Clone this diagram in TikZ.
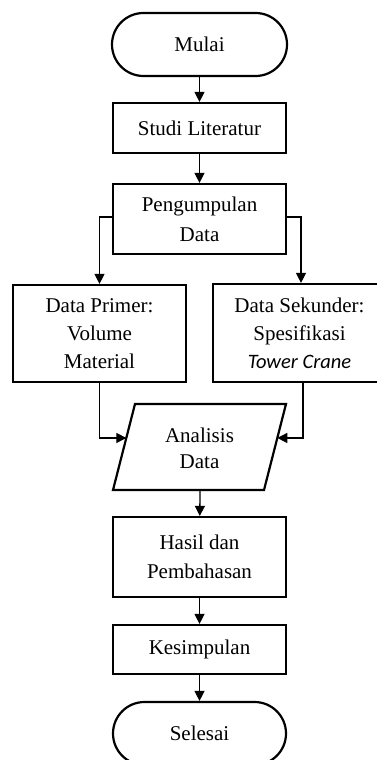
\documentclass[tikz,border=0pt]{standalone}
\usepackage{fontspec}
\setmainfont{Liberation Serif}
\newfontfamily\carl{Carlito}
\usetikzlibrary{arrows.meta,calc}
\begin{document}
\begin{tikzpicture}[x=1pt,y=-1pt,
  box/.style={draw,line width=2.2pt,minimum width=173pt,align=center,inner sep=0pt,
    font=\fontsize{21}{28}\selectfont},
  term/.style={box,rounded corners=31.5pt,minimum height=63pt},
  conn/.style={line width=1.3pt,-{Triangle[length=10pt,width=10pt]}}]
\useasboundingbox (0,0) rectangle (376,760);
\node[term,minimum width=175pt] (mulai) at (199.5,44.5) {Mulai};
\node[box,minimum height=50pt] (studi) at (199.5,128) {Studi Literatur};
\node[box,minimum height=70pt,font=\fontsize{21}{30}\selectfont] (kumpul) at (199.5,219) {Pengumpulan\\Data};
\node[box,minimum height=97pt] (primer) at (99.5,333.5) {Data Primer:\\Volume\\Material};
\node[box,minimum height=98pt] (sekunder) at (299.5,333) {Data Sekunder:\\Spesifikasi\\{\carl\itshape\fontsize{20.5}{28}\selectfont Tower Crane}};
\coordinate (pTL) at (135,404);
\coordinate (pTR) at (286,404);
\coordinate (pBR) at (264,490);
\coordinate (pBL) at (113,490);
\draw[line width=2.2pt,line join=miter] (pTL) -- (pTR) -- (pBR) -- (pBL) -- cycle;
\coordinate (pL) at ($(pTL)!0.395!(pBL)$);
\coordinate (pR) at ($(pTR)!0.395!(pBR)$);
\node[align=center,inner sep=0pt,font=\fontsize{21}{26}\selectfont] (ana) at (199.5,448) {Analisis\\Data};
\coordinate (anaTop) at (200,404);
\coordinate (anaBot) at (200,490);
\node[box,minimum height=80pt,font=\fontsize{21}{29}\selectfont] (hasil) at (199.5,557) {Hasil dan\\Pembahasan};
\node[box,minimum height=49pt] (kesim) at (199.5,649.5) {Kesimpulan};
\node[term] (selesai) at (199.5,733.5) {Selesai};
\draw[conn] (mulai) -- (studi);
\draw[conn] (studi) -- (kumpul);
\draw[conn] ([yshift=2pt]kumpul.west) -| (primer.north);
\draw[conn] ([yshift=2pt]kumpul.east) -| ([xshift=1.5pt]sekunder.north);
\draw[conn] (primer.south) |- (pL);
\draw[conn] ([xshift=3.5pt]sekunder.south) |- (pR);
\draw[conn] (anaBot) -- (hasil);
\draw[conn] (hasil) -- (kesim);
\draw[conn] (kesim) -- (selesai);
\end{tikzpicture}
\end{document}
